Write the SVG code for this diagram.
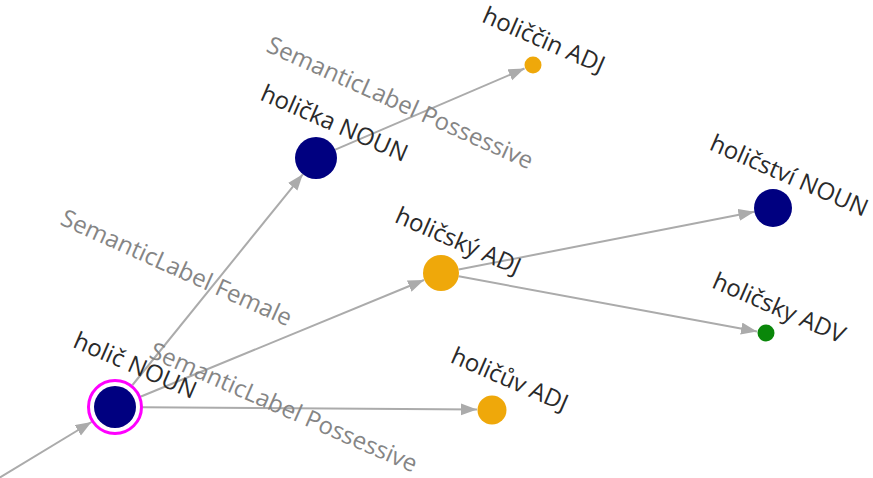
<svg xmlns="http://www.w3.org/2000/svg" width="873" height="478" viewBox="0 0 873 478">
<style>
.edge{stroke:#ababab;stroke-width:2;fill:none}
.nl{font-family:"Open Sans","Noto Sans",sans-serif;font-size:24px;fill:#2a2a2a;text-anchor:middle}
.el{font-family:"Open Sans","Noto Sans",sans-serif;font-size:24px;fill:#858585}
.noun{fill:#000080}
.adj{fill:#efa80a}
.adv{fill:#0a870a}
</style>
<defs>
<marker id="arr" markerUnits="userSpaceOnUse" markerWidth="17" markerHeight="13" refX="16" refY="6" orient="auto">
<path d="M0,0 L16,6 L0,12 z" fill="#ababab"/>
</marker>
</defs>
<rect width="873" height="478" fill="#fff"/>
<g id="edges">
<line class="edge" x1="-10" y1="483.5" x2="91.5" y2="422" marker-end="url(#arr)"/>
<line class="edge" x1="132.5" y1="385" x2="302.8" y2="174.3" marker-end="url(#arr)"/>
<line class="edge" x1="335.3" y1="149.7" x2="524.5" y2="68.5" marker-end="url(#arr)"/>
<line class="edge" x1="141" y1="396.5" x2="424" y2="280" marker-end="url(#arr)"/>
<line class="edge" x1="143" y1="407.2" x2="477" y2="409.5" marker-end="url(#arr)"/>
<line class="edge" x1="458.7" y1="269.6" x2="754.4" y2="211.7" marker-end="url(#arr)"/>
<line class="edge" x1="458.7" y1="276.3" x2="757" y2="331.4" marker-end="url(#arr)"/>
</g>
<g id="edge-labels">
<text class="el" transform="translate(265,51) rotate(24.2)">SemanticLabel Possessive</text>
<text class="el" transform="translate(59,224) rotate(24.2)">SemanticLabel Female</text>
<text class="el" transform="translate(148,357) rotate(23.6)">SemanticLabel Possessive</text>
</g>
<g id="holic">
<circle cx="115" cy="407" r="26.5" fill="#fff" stroke="#ff00ff" stroke-width="3"/>
<circle class="noun" cx="115" cy="407" r="21"/>
<text class="nl" transform="translate(115,407) rotate(23.5)" x="2" y="-38">holič NOUN</text>
</g>
<g id="holicka">
<circle class="noun" cx="316" cy="158" r="21"/>
<text class="nl" transform="translate(316,158) rotate(23.5)" x="3" y="-31">holička NOUN</text>
</g>
<g id="holiccin">
<circle class="adj" cx="533" cy="65" r="8.5"/>
<text class="nl" transform="translate(533,65) rotate(23.5)" x="0" y="-19">holiččin ADJ</text>
</g>
<g id="holicsky-adj">
<circle class="adj" cx="441" cy="273" r="18"/>
<text class="nl" transform="translate(441,273) rotate(23.5)" x="3" y="-28">holičský ADJ</text>
</g>
<g id="holicstvi">
<circle class="noun" cx="773" cy="208" r="19"/>
<text class="nl" transform="translate(773,208) rotate(23.5)" x="2" y="-28">holičství NOUN</text>
</g>
<g id="holicsky-adv">
<circle class="adv" cx="766" cy="333" r="8.5"/>
<text class="nl" transform="translate(766,333) rotate(23.5)" x="2" y="-20">holičsky ADV</text>
</g>
<g id="holicuv">
<circle class="adj" cx="492" cy="410" r="14.5"/>
<text class="nl" transform="translate(492,410) rotate(23.5)" x="4" y="-27">holičův ADJ</text>
</g>
</svg>
